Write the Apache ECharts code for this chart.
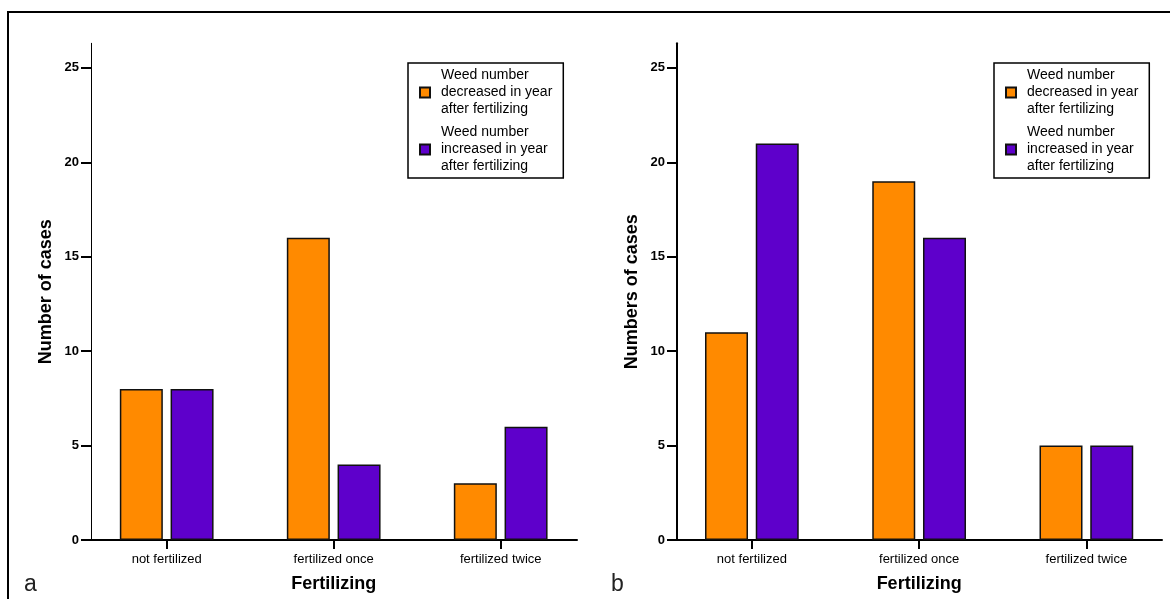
<!DOCTYPE html>
<html>
<head>
<meta charset="utf-8">
<title>Weed number and fertilizing</title>
<script src="https://cdn.jsdelivr.net/npm/echarts@6/dist/echarts.min.js"></script>
<style>
  html, body { margin: 0; padding: 0; background: #fff; }
  #chart { width: 1170px; height: 599px; }
</style>
</head>
<body>
<div id="chart"></div>
<script>
// Categories and counts for the two panels
const categories = ['not fertilized', 'fertilized once', 'fertilized twice'];
const decreasedA = [8, 16, 3];
const increasedA = [8, 4, 6];
const decreasedB = [11, 19, 5];
const increasedB = [21, 16, 5];
const yTicks = [0, 5, 10, 15, 20, 25];
const seriesNames = ['Weed number decreased in year after fertilizing',
                     'Weed number increased in year after fertilizing'];
const legendLines = {
  [seriesNames[0]]: 'Weed number\ndecreased in year\nafter fertilizing',
  [seriesNames[1]]: 'Weed number\nincreased in year\nafter fertilizing'
};

const ORANGE = '#FF8A00';
const PURPLE = '#5E00CB';
const FONT = "'Liberation Sans', Arial, Helvetica, sans-serif";
const Y_MAX = 26.3;
const TOP = 43.3;
const PLOT_H = 496.7;

const chart = echarts.init(document.getElementById('chart'), null, { renderer: 'canvas' });

function frameY(gridIndex, name, lineWidth) {
  return {
    type: 'value', gridIndex, min: 0, max: Y_MAX,
    name, nameLocation: 'middle', nameGap: 36, nameRotate: 90,
    nameTextStyle: { fontFamily: FONT, fontWeight: 'bold', fontSize: 18, color: '#000' },
    axisLine: { show: true, lineStyle: { color: '#000', width: lineWidth } },
    axisTick: { show: true, customValues: yTicks, length: 10, lineStyle: { color: '#000', width: 2 } },
    axisLabel: { show: true, customValues: yTicks, margin: 12, fontFamily: FONT, fontWeight: 'bold', fontSize: 13, color: '#000' },
    splitLine: { show: false }
  };
}
function hiddenY(gridIndex) {
  return { type: 'value', gridIndex, min: 0, max: Y_MAX, show: false };
}
function baseX(gridIndex) {
  return {
    type: 'value', gridIndex, min: 0, max: 1,
    axisLine: { show: true, onZero: false, lineStyle: { color: '#000', width: 2 } },
    axisTick: { show: false }, axisLabel: { show: false }, splitLine: { show: false }
  };
}
function catX(gridIndex) {
  return {
    type: 'category', gridIndex, data: categories,
    name: 'Fertilizing', nameLocation: 'middle', nameGap: 35,
    nameTextStyle: { fontFamily: FONT, fontWeight: 'bold', fontSize: 18, color: '#000' },
    axisLine: { show: false },
    axisTick: { show: true, alignWithLabel: true, length: 9, lineStyle: { color: '#000', width: 2 } },
    axisLabel: { margin: 13, fontFamily: FONT, fontSize: 13, color: '#000' },
    splitLine: { show: false }
  };
}
function bars(name, data, color, xi, yi) {
  return {
    type: 'bar', name, data, xAxisIndex: xi, yAxisIndex: yi,
    barWidth: 43, barGap: '18%',
    itemStyle: { color, borderColor: '#111', borderWidth: 1.5 },
    emphasis: { disabled: true }, animation: false
  };
}
function legendAt(left, seriesIdx) {
  return {
    left, top: 63, orient: 'vertical', selectedMode: false,
    padding: [4, 11, 3, 11], itemGap: 6, itemWidth: 10, itemHeight: 10,
    borderColor: '#000', borderWidth: 1.5, backgroundColor: '#fff',
    icon: 'rect',
    data: seriesNames,
    formatter: n => legendLines[n],
    textStyle: { fontFamily: FONT, fontSize: 14, lineHeight: 17, color: '#000', padding: [0, 0, 0, 6] }
  };
}

chart.setOption({
  animation: false,
  backgroundColor: '#fff',
  grid: [
    { left: 91, top: TOP, width: 486, height: PLOT_H },
    { left: 83.2, top: TOP, width: 501, height: PLOT_H },
    { left: 677, top: TOP, width: 485, height: PLOT_H },
    { left: 668.25, top: TOP, width: 502.5, height: PLOT_H }
  ],
  xAxis: [baseX(0), catX(1), baseX(2), catX(3)],
  yAxis: [frameY(0, 'Number of cases', 1), hiddenY(1), frameY(2, 'Numbers of cases', 2), hiddenY(3)],
  legend: [legendAt(408), legendAt(994)],
  series: [
    bars(seriesNames[0], decreasedA, ORANGE, 1, 1),
    bars(seriesNames[1], increasedA, PURPLE, 1, 1),
    bars(seriesNames[0], decreasedB, ORANGE, 3, 3),
    bars(seriesNames[1], increasedB, PURPLE, 3, 3)
  ],
  graphic: [
    { type: 'rect', shape: { x: 8, y: 12, width: 1200, height: 640 },
      style: { fill: 'none', stroke: '#000', lineWidth: 2 }, silent: true, z: 10 },
    { type: 'text', x: 24, y: 585, style: { text: 'a', font: "23px " + FONT, fill: '#222', verticalAlign: 'middle' } },
    { type: 'text', x: 611, y: 585, style: { text: 'b', font: "23px " + FONT, fill: '#222', verticalAlign: 'middle' } }
  ]
});
</script>
</body>
</html>
